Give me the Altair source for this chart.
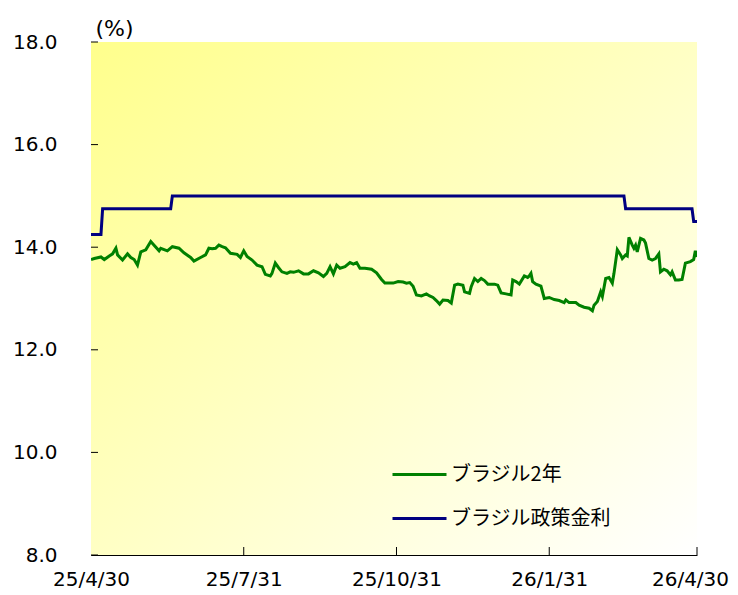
import altair as alt
import pandas as pd

START = "2025-04-30"

# Brazil 2-year yield: days since 2025-04-30, and values (%)
yield_days = [
    0, 2, 6, 8, 11, 13, 15, 16, 19, 22,
    24, 26, 28, 30, 33, 36, 38, 41, 42, 46,
    49, 53, 56, 60, 62, 66, 69, 71, 73, 75,
    77, 79, 81, 84, 88, 90, 92, 94, 97, 100,
    103, 105, 108, 109, 111, 113, 115, 118, 120, 122,
    125, 128, 131, 134, 137, 140, 142, 144, 146, 148,
    150, 153, 156, 158, 160, 162, 165, 169, 172, 175,
    177, 180, 182, 185, 188, 190, 192, 194, 196, 199,
    202, 204, 206, 208, 210, 212, 215, 217, 219, 221,
    224, 225, 228, 229, 231, 233, 235, 237, 239, 243,
    245, 247, 250, 253, 254, 256, 258, 261, 263, 264,
    265, 266, 268, 271, 273, 276, 279, 282, 285, 286,
    288, 292, 294, 297, 300, 302, 303, 305, 307, 308,
    310, 312, 314, 315, 317, 319, 320, 322, 323, 324,
    326, 327, 328, 329, 331, 333, 334, 336, 338, 340,
    342, 343, 345, 347, 349, 350, 352, 354, 356, 358,
    361, 363, 364, 365,
]
yield_values = [
    13.76, 13.78, 13.81, 13.76, 13.83, 13.87, 13.98, 13.85, 13.75, 13.87,
    13.80, 13.76, 13.65, 13.91, 13.95, 14.11, 14.04, 13.93, 13.98, 13.93,
    14.01, 13.98, 13.89, 13.80, 13.73, 13.80, 13.85, 13.98, 13.97, 13.98,
    14.04, 14.01, 13.99, 13.88, 13.86, 13.80, 13.93, 13.82, 13.75, 13.65,
    13.62, 13.47, 13.44, 13.49, 13.69, 13.60, 13.52, 13.49, 13.52, 13.51,
    13.54, 13.48, 13.48, 13.54, 13.50, 13.43, 13.49, 13.62, 13.48, 13.65,
    13.59, 13.62, 13.70, 13.67, 13.70, 13.59, 13.59, 13.57, 13.50, 13.37,
    13.30, 13.30, 13.30, 13.33, 13.32, 13.30, 13.31, 13.24, 13.07, 13.05,
    13.09, 13.05, 13.02, 12.96, 12.89, 12.97, 12.96, 12.91, 13.26, 13.28,
    13.26, 13.13, 13.10, 13.23, 13.39, 13.33, 13.39, 13.35, 13.28, 13.28,
    13.26, 13.11, 13.09, 13.07, 13.36, 13.33, 13.28, 13.44, 13.41, 13.44,
    13.49, 13.33, 13.28, 13.24, 13.00, 13.02, 12.98, 12.96, 12.92, 12.97,
    12.92, 12.92, 12.87, 12.83, 12.81, 12.76, 12.87, 12.94, 13.13, 13.04,
    13.39, 13.41, 13.30, 13.49, 13.95, 13.85, 13.78, 13.85, 13.83, 14.19,
    14.04, 13.98, 14.04, 13.91, 14.17, 14.14, 14.08, 13.78, 13.75, 13.78,
    13.87, 13.52, 13.57, 13.54, 13.46, 13.52, 13.36, 13.36, 13.37, 13.69,
    13.72, 13.76, 13.93, 13.81,
]

# Brazil policy rate (Selic): days since 2025-04-30, and values (%)
policy_days = [0, 6, 7, 48, 49, 321, 322, 362, 363, 365]
policy_values = [14.25, 14.25, 14.75, 14.75, 15.00, 15.00, 14.75, 14.75, 14.50, 14.50]

series_names = ["ブラジル2年", "ブラジル政策金利"]
series_colors = ["#008000", "#000080"]

x_label_dates = ["2025-04-30", "2025-07-31", "2025-10-31", "2026-01-31", "2026-04-30"]
x_tick_dates = ["2025-07-31", "2025-10-31", "2026-01-31", "2026-04-30"]
y_tick_values = [8, 10, 12, 14, 16, 18]

start = pd.Timestamp(START)
df_yield = pd.DataFrame({
    "date": start + pd.to_timedelta(yield_days, unit="D"),
    "value": yield_values,
    "series": series_names[0],
})
df_policy = pd.DataFrame({
    "date": start + pd.to_timedelta(policy_days, unit="D"),
    "value": policy_values,
    "series": series_names[1],
})
df = pd.concat([df_policy, df_yield], ignore_index=True)

W, H = 606, 513


def dt(s):
    return alt.DateTime(year=int(s[:4]), month=int(s[5:7]), date=int(s[8:]))


x_scale = alt.Scale(domain=[dt(x_label_dates[0]), dt(x_label_dates[-1])])
y_scale = alt.Scale(domain=[8, 18], nice=False, zero=False)

x_axis = alt.Axis(
    values=[dt(d) for d in x_label_dates],
    format="%y/%-m/%-d", grid=False, ticks=False, tickSize=0,
    labelPadding=14, labelFlush=False, title=None,
    labelOffset={"condition": {"test": "datum.value > datetime(2026, 2, 15)", "value": -7},
                 "value": 0},
)
y_axis = alt.Axis(
    values=y_tick_values, format=".1f", grid=True, ticks=False, tickSize=0,
    labelPadding=34, title="(%)", titleAngle=0, titleX=23, titleY=-14,
    titleAlign="center", titleBaseline="middle",
    titleFont="DejaVu Sans", titleFontSize=22, titleFontWeight="normal",
    titleColor="#000000",
)

bg = alt.Chart(alt.Data(values=[{}])).mark_rect(
    color=alt.Gradient(
        gradient="linear",
        stops=[alt.GradientStop(color="#ffff8c", offset=0),
               alt.GradientStop(color="#ffffc4", offset=0.5),
               alt.GradientStop(color="#ffffff", offset=1)],
        x1=0, y1=0, x2=1, y2=1,
    )
).encode(x=alt.value(0), x2=alt.value(W), y=alt.value(0), y2=alt.value(H))

lines = alt.Chart(df).mark_line(strokeWidth=3, clip=True).encode(
    x=alt.X("date:T", scale=x_scale, axis=x_axis),
    y=alt.Y("value:Q", scale=y_scale, axis=y_axis),
    color=alt.Color(
        "series:N",
        scale=alt.Scale(domain=series_names, range=series_colors),
        legend=alt.Legend(
            title=None, orient="none", legendX=300, legendY=404,
            symbolType="stroke", symbolSize=2916, symbolStrokeWidth=3,
            labelFont="Noto Sans CJK JP", labelFontSize=20, labelColor="#000000",
            labelOffset=3, rowPadding=5, padding=0, labelLimit=400,
        ),
    ),
    detail="series:N",
)

xt = pd.DataFrame({"date": pd.to_datetime(x_tick_dates)})
x_ticks = alt.Chart(xt).mark_rule(color="#000000", strokeWidth=1).encode(
    x=alt.X("date:T", scale=x_scale), y=alt.value(H), y2=alt.value(H - 8)
)
yt = pd.DataFrame({"v": y_tick_values})
y_ticks = alt.Chart(yt).mark_rule(color="#000000", strokeWidth=1).encode(
    y=alt.Y("v:Q", scale=y_scale), x=alt.value(0), x2=alt.value(7)
)

chart = alt.layer(bg, lines, x_ticks, y_ticks).properties(
    width=W, height=H,
    padding={"left": 83, "top": 34, "right": 33, "bottom": 40},
    autosize="none",
).configure_view(stroke=None).configure_axis(
    labelFont="DejaVu Sans", labelFontSize=20, labelColor="#000000",
    domainColor="#000000", domainWidth=1,
    gridColor="#b8b8b8", gridDash=[3, 3], gridWidth=1, zindex=1,
)

chart.save("out.html", embed_options={"renderer": "svg", "actions": False})
